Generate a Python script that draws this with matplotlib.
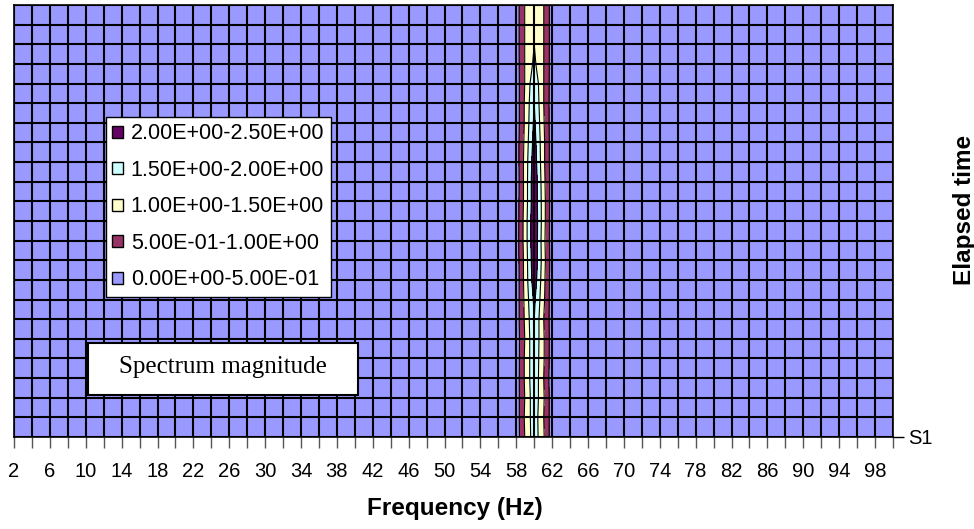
import numpy as np
import matplotlib
matplotlib.use("Agg")
import matplotlib.pyplot as plt
from matplotlib.patches import Patch, Rectangle

# frequency bins (Hz), series rows (S1 at bottom), axis categories every 2 Hz
freqs = list(range(2, 101))
categories = list(range(2, 101, 2))
series = ["S%d" % i for i in range(1, 24)]

# magnitude around the 60 Hz line for each series S1..S23
mag_58 = [0.20, 0.20, 0.22, 0.20, 0.18, 0.20, 0.22, 0.20, 0.18, 0.20, 0.22, 0.20,
          0.20, 0.18, 0.20, 0.22, 0.20, 0.20, 0.22, 0.24, 0.25, 0.25, 0.25]
mag_59 = [1.05, 1.10, 1.05, 1.10, 1.10, 1.05, 1.10, 1.15, 1.20, 1.20, 1.25, 1.25,
          1.20, 1.20, 1.20, 1.15, 1.10, 1.10, 1.05, 1.05, 1.05, 1.05, 1.05]
mag_60 = [1.80, 1.80, 1.85, 1.90, 1.90, 1.95, 2.00, 2.10, 2.30, 2.40, 2.45, 2.45,
          2.40, 2.40, 2.30, 2.20, 2.10, 2.00, 1.90, 1.60, 1.50, 1.45, 1.45]
mag_61 = [1.10, 1.05, 1.10, 1.05, 1.10, 1.10, 1.05, 1.15, 1.20, 1.25, 1.20, 1.25,
          1.25, 1.20, 1.15, 1.15, 1.10, 1.05, 1.05, 1.05, 1.05, 1.05, 1.05]
mag_62 = [0.20, 0.22, 0.20, 0.18, 0.20, 0.22, 0.20, 0.18, 0.20, 0.22, 0.20, 0.18,
          0.20, 0.22, 0.20, 0.20, 0.18, 0.20, 0.22, 0.24, 0.25, 0.25, 0.25]

levels = [0.0, 0.5, 1.0, 1.5, 2.0, 2.5]
band_colors = ["#9999FF", "#993366", "#FFFFCC", "#CCFFFF", "#660066"]
band_labels = ["0.00E+00-5.00E-01", "5.00E-01-1.00E+00", "1.00E+00-1.50E+00",
               "1.50E+00-2.00E+00", "2.00E+00-2.50E+00"]

mag = np.zeros((len(series), len(freqs)))
for f, col in zip([58, 59, 60, 61, 62], [mag_58, mag_59, mag_60, mag_61, mag_62]):
    mag[:, freqs.index(f)] = col

W, H = 974, 529
fig = plt.figure(figsize=(W / 100, H / 100), dpi=100)
ax = fig.add_axes([14 / W, 1 - 437 / H, (893 - 14) / W, (437 - 5) / H])

rows = np.arange(1, len(series) + 1)
ax.contourf(freqs, rows, mag, levels=levels, colors=band_colors)
ax.contour(freqs, rows, mag, levels=levels[1:-1], colors="black", linewidths=0.8)

ax.set_xlim(2, 100)
ax.set_ylim(1, len(series))

# grid at every category / series
for f in categories:
    ax.axvline(f, color="black", lw=1.5, zorder=3)
for r in rows:
    ax.axhline(r, color="black", lw=1.5, zorder=3)
for s in ax.spines.values():
    s.set_color("black")
    s.set_linewidth(1.2)
    s.set_zorder(4)

ax.set_xticks(categories)
ax.set_xticklabels([str(f) if (f - 2) % 4 == 0 else "" for f in categories],
                   fontsize=14.5, family="Liberation Sans")
ax.tick_params(axis="x", length=8, width=1, color="#555555", pad=10)

ax.yaxis.tick_right()
ax.set_yticks([1])
ax.set_yticklabels(["S1"], fontsize=14.5, family="Liberation Sans")
ax.tick_params(axis="y", length=8, width=1, color="black", pad=3)

fig.text(455 / W, 1 - 509 / H, "Frequency (Hz)", ha="center", va="center",
         fontsize=17.5, fontweight="bold", family="Liberation Sans")
fig.text(964 / W, 1 - 210 / H, "Elapsed time", ha="center", va="center",
         rotation=90, fontsize=17.5, fontweight="bold", family="Liberation Sans")

# legend (top entry = highest band)
handles = [Patch(facecolor=c, edgecolor="black", lw=1) for c in band_colors[::-1]]
leg = fig.legend(handles, band_labels[::-1], loc="upper left",
                 bbox_to_anchor=(106 / W, 1 - 117 / H),
                 prop={"family": "Liberation Sans", "size": 15.5},
                 frameon=True, fancybox=False, edgecolor="black", framealpha=1,
                 handlelength=0.5, handleheight=0.5, handletextpad=0.35,
                 labelspacing=0.72, borderpad=0.3, borderaxespad=0)
leg.get_frame().set_linewidth(1)
leg.set_zorder(10)

# text box
fig.patches.append(Rectangle((88 / W, 1 - 395 / H), (358 - 88) / W, (395 - 343) / H,
                             transform=fig.transFigure, facecolor="white",
                             edgecolor="black", lw=1.5, zorder=10))
fig.text(223 / W, 1 - 367 / H, "Spectrum magnitude", ha="center", va="center",
         fontsize=18, family="Liberation Serif", zorder=11)

fig.savefig("out.png", dpi=100)
